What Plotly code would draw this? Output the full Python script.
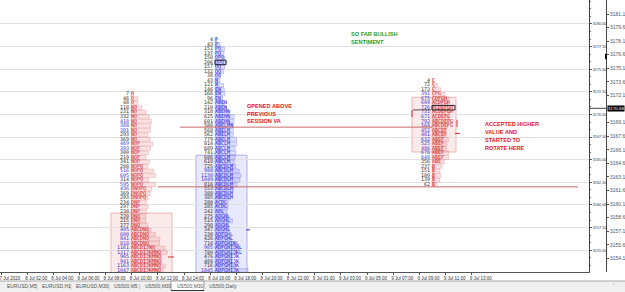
import math
import plotly.graph_objects as go

# ---------------- data ----------------
tick_size = 0.5

# Profile 1 (8 Jul, red)
p1_top = 3172.25
p1_counts = [7, 46, 48, 118, 231, 332, 418, 388, 381, 293,
             369, 469, 383, 300, 219, 341, 288, 516, 605, 314,
             595, 436, 369, 293, 234, 297, 238, 220, 215, 277,
             405, 600, 841, 818, 1161, 1317, 965, 941, 1163, 1047]
p1_letters = ["O", "O", "O", "NO", "NO", "NO", "NO", "NO", "NO", "NO",
              "NO", "NOP", "NOP", "NOP", "NOP", "NOP", "NOPQ", "NOPQ", "NOPQ", "NOPQ",
              "NOPQ", "DNOPQ", "DNOPQ", "DNOPQ", "DNP", "DNP", "DNP", "DNQ", "DNQ", "DNQ",
              "ABCDNQ", "ABCDNQ", "ABCDNQ", "ABCDNQ", "ABCDIJNQ", "ABCDIJKMNQ", "ABCDIJKMNQ",
              "ABCDIJKMNQ", "ABCDIJKMNQ", "ABCDIJKMNQ"]
p1_va = (3159.1, 3152.5)

# Profile 2 (8 Jul later session, blue)
p2_top = 3178.25
p2_counts = [4, 43, 151, 137, 158, 206, 157, 132, 38, 43,
             121, 146, 166, 96, 142, 210, 318, 625, 601, 580,
             568, 562, 779, 814, 689, 741, 686, 618, 725, 988,
             1130, 1049, 816, 553, 388, 385, 280, 285, 242, 275,
             515, 298, 347, 238, 426, 718, 985, 780, 476, 488,
             716, 1845]
p2_letters = ["P", "P", "PQ", "PQ", "OPQ", "OPQ", "OQ", "OQ", "OQ", "N",
              "N", "EN", "EN", "EN", "ABEN", "ABEN", "ABEHN", "ABEHN", "ABEHN", "ABELMN",
              "ABELM", "ABELM", "ABELM", "ABCLM", "ABCLM", "ABCLM", "ABCLM", "ABCLM", "ABCDLM", "ABCDLM",
              "ABCDLM", "ABCDLM", "ABCDLM", "ABCDLM", "ABCDLM", "ABCDLM", "ACDL", "ACDL", "ADL", "ADGHL",
              "ADGHL", "ADGHL", "ADGHL", "ADFGHL", "ADFGHL", "ADFGHIKL", "ADFGHIJKL", "ADFGHIJKL", "ADFGHIJK", "ADFGHIJK",
              "ADFGHIJK", "ADFGHIJK"]
p2_va = (3165.5, 3152.5)
p2_poc_row = 5

# Profile 3 (9 Jul, red)
p3_top = 3173.75
p3_counts = [4, 72, 173, 391, 675, 600, 726, 731, 671, 792,
             568, 452, 481, 632, 525, 486, 676, 648, 356, 237,
             151, 180, 139, 62]
p3_letters = ["C", "C", "C", "CFG", "CDFGH", "ACDFGH", "ACDEFGH", "ACDEFGH", "ACDEFG", "ABCDEFG",
              "ABCDEFG", "ABCEF", "ABCEF", "ABEF", "ABEF", "ABEF", "ABEF", "ABEF", "ABE", "B",
              "B", "B", "B", "B"]
p3_va = (3171.9, 3165.85)
p3_poc_row = 6

# reference levels
level_upper = 3168.6
level_lower = 3162.0
last_price = 3170.68

# axes
x_tick_labels = ["7 Jul 2020", "8 Jul 02:00", "8 Jul 04:00", "8 Jul 06:00", "8 Jul 08:00",
                 "8 Jul 10:00", "8 Jul 12:00", "8 Jul 14:00", "8 Jul 16:00", "8 Jul 18:00",
                 "8 Jul 20:00", "8 Jul 22:00", "9 Jul 01:00", "9 Jul 03:00", "9 Jul 05:00",
                 "9 Jul 07:00", "9 Jul 09:00", "9 Jul 11:00", "9 Jul 13:00"]
price_ticks = [3152.5, 3155.0, 3157.5, 3160.0, 3162.5, 3165.0, 3167.5, 3170.0,
               3172.5, 3175.0, 3177.5, 3180.0]
outer_ticks = [3181.1, 3179.6, 3178.1, 3176.6, 3175.1, 3173.6, 3172.1,
               3169.1, 3167.6, 3166.1, 3164.6, 3163.1, 3161.6, 3160.1,
               3158.6, 3157.1, 3155.6, 3154.1]
tab_labels = ["EURUSD,M5", "EURUSD,H1", "EURUSD,M30", "US500,M5", "US500,M30",
              "US500,M30", "US500,Daily"]
active_tab = 5

# ---------------- layout config ----------------
W, H = 625, 292
PLOT_RIGHT = 589
PLOT_BOTTOM = 272
PX_PER_UNIT = 26.15
Y_TOP, Y_BOT = 3182.65, 3152.59


def ux(px):
    return (px - 1) / PX_PER_UNIT


def py(p):
    return Y_TOP - p / ((PLOT_BOTTOM) / (Y_TOP - Y_BOT))


def paper_y(p):
    return (PLOT_BOTTOM - p) / PLOT_BOTTOM


profiles = [
    dict(top=p1_top, counts=p1_counts, letters=p1_letters, anchor=ux(131), k=1.0,
         letter_color="#d21c1c", bar_fill="rgba(238,165,165,0.32)", bar_line="rgba(215,120,120,0.5)",
         va=p1_va, va_x=(111, 172), va_fill="rgba(242,190,190,0.33)", va_line="#eaa6a6",
         thr=380, poc=None),
    dict(top=p2_top, counts=p2_counts, letters=p2_letters, anchor=ux(215), k=0.77,
         letter_color="#2424d8", bar_fill="rgba(165,165,245,0.35)", bar_line="rgba(110,110,235,0.55)",
         va=p2_va, va_x=(196, 247), va_fill="rgba(192,192,250,0.35)", va_line="#9c9cf2",
         thr=900, poc=p2_poc_row),
    dict(top=p3_top, counts=p3_counts, letters=p3_letters, anchor=ux(432), k=0.65,
         letter_color="#d21c1c", bar_fill="rgba(238,165,165,0.32)", bar_line="rgba(215,120,120,0.5)",
         va=p3_va, va_x=(412, 456), va_fill="rgba(242,190,190,0.33)", va_line="#eaa6a6",
         thr=380, poc=p3_poc_row),
]

fig = go.Figure()
shapes = []
CHAR_W = 3.0  # px per monospace char

for pr in profiles:
    n = len(pr["counts"])
    prices = [pr["top"] - tick_size * i for i in range(n)]
    lengths = [math.sqrt(c) * pr["k"] / PX_PER_UNIT for c in pr["counts"]]
    fig.add_trace(go.Bar(
        y=prices, x=lengths, base=[pr["anchor"]] * n, orientation="h", width=0.42,
        marker=dict(color=pr["bar_fill"], line=dict(color=pr["bar_line"], width=0.6)),
        hoverinfo="skip", showlegend=False))
    fig.add_trace(go.Scatter(
        x=[pr["anchor"]] * n, y=prices, mode="text", text=pr["letters"],
        textposition="middle right", cliponaxis=False,
        textfont=dict(family="DejaVu Sans Mono", size=5, color=pr["letter_color"]),
        hoverinfo="skip", showlegend=False))
    num_colors = ["#3a3ad0" if c >= pr["thr"] else "#333333" for c in pr["counts"]]
    fig.add_trace(go.Scatter(
        x=[pr["anchor"] - 2.0 / PX_PER_UNIT] * n, y=prices, mode="text",
        text=[str(c) for c in pr["counts"]], textposition="middle left", cliponaxis=False,
        textfont=dict(family="DejaVu Sans Mono", size=5, color=num_colors),
        hoverinfo="skip", showlegend=False))
    shapes.append(dict(type="rect", xref="x", yref="y", layer="below",
                       x0=ux(pr["va_x"][0]), x1=ux(pr["va_x"][1]),
                       y0=pr["va"][1], y1=pr["va"][0],
                       fillcolor=pr["va_fill"], line=dict(color=pr["va_line"], width=0.8)))
    if pr["poc"] is not None:
        pp = prices[pr["poc"]]
        shapes.append(dict(type="rect", xref="x", yref="y", layer="above",
                           x0=pr["anchor"], x1=pr["anchor"] + (len(pr["letters"][pr["poc"]]) * CHAR_W + 2) / PX_PER_UNIT,
                           y0=pp - 0.25, y1=pp + 0.25,
                           line=dict(color="#111111", width=0.9)))

# invisible trace to activate the outer price axis
fig.add_trace(go.Scatter(x=[0], y=[3170], yaxis="y2", mode="markers",
                         marker=dict(opacity=0), hoverinfo="skip", showlegend=False))

# reference lines
shapes.append(dict(type="line", xref="x", yref="y", x0=ux(180), x1=ux(432),
                   y0=level_upper, y1=level_upper, line=dict(color="#c86a6a", width=1)))
shapes.append(dict(type="line", xref="x", yref="y", x0=ux(158), x1=ux(578),
                   y0=level_lower, y1=level_lower, line=dict(color="#c86a6a", width=1)))
small = [
    (168, 174, 3154.25, 3154.25, "#d03030"),
    (246, 250, 3157.25, 3157.25, "#3535d8"),
    (455, 460, 3167.9, 3167.9, "#d03030"),
    (413, 431, 3170.5, 3170.5, "#555555"),
]
for x0, x1, y0, y1, c in small:
    shapes.append(dict(type="line", xref="x", yref="y", x0=ux(x0), x1=ux(x1), y0=y0, y1=y1,
                       line=dict(color=c, width=1)))
shapes.append(dict(type="line", xref="x", yref="y", x0=ux(412), x1=ux(412), y0=3169.7, y1=3170.5,
                   line=dict(color="#d03030", width=1)))
shapes.append(dict(type="line", xref="x", yref="y", x0=ux(457), x1=ux(457), y0=3168.6, y1=3169.4,
                   line=dict(color="#d03030", width=1)))

shapes.append(dict(type="line", xref="paper", yref="y", x0=PLOT_RIGHT / W, x1=606 / W,
                   y0=last_price, y1=last_price, line=dict(color="#444444", width=1)))
shapes.append(dict(type="line", xref="paper", yref="y", x0=606 / W, x1=606 / W,
                   y0=3176.1, y1=3176.7, line=dict(color="#111111", width=2)))

# tab bar
shapes.append(dict(type="rect", xref="paper", yref="paper", x0=0, x1=1,
                   y0=paper_y(292), y1=paper_y(281), fillcolor="#f0f0f0",
                   line=dict(width=0), layer="below"))
shapes.append(dict(type="line", xref="paper", yref="paper", x0=0, x1=1,
                   y0=paper_y(281), y1=paper_y(281), line=dict(color="#a8a8a8", width=1)))

tab_x = [5, 40, 74, 112, 143, 175, 207]
annotations = []
for i, (lab, tx) in enumerate(zip(tab_labels, tab_x)):
    if i == active_tab:
        shapes.append(dict(type="rect", xref="paper", yref="paper", x0=171 / W, x1=204 / W,
                           y0=paper_y(290.5), y1=paper_y(281), fillcolor="#ffffff",
                           line=dict(color="#8a8a8a", width=0.8)))
        shapes.append(dict(type="line", xref="paper", yref="paper", x0=171 / W, x1=204 / W,
                           y0=paper_y(290.5), y1=paper_y(290.5), line=dict(color="#333333", width=1)))
    annotations.append(dict(xref="paper", yref="paper", x=tx / W, y=paper_y(286), text=lab,
                            showarrow=False, xanchor="left", yanchor="middle",
                            font=dict(family="Liberation Sans", size=5, color="#555555")))
    if i < len(tab_labels) - 1 and i != active_tab - 1 and i != active_tab:
        annotations.append(dict(xref="paper", yref="paper", x=(tab_x[i + 1] - 4) / W, y=paper_y(286),
                                text="|", showarrow=False, xanchor="center", yanchor="middle",
                                font=dict(family="Liberation Sans", size=5, color="#888888")))
annotations.append(dict(xref="paper", yref="paper", x=613 / W, y=paper_y(285), text="'",
                        showarrow=False, xanchor="center", yanchor="middle",
                        font=dict(family="Liberation Sans", size=5, color="#777777")))

annotations.append(dict(xref="paper", yref="y", x=606.5 / W, y=last_price, text="%.2f" % last_price,
                        showarrow=False, xanchor="left", yanchor="middle", bgcolor="#000000",
                        borderpad=0, font=dict(family="Liberation Sans", size=4.4, color="#ffffff")))

notes = [
    (["SO FAR BULLISH", "SENTIMENT"], 349, 34, 7.7, "#1f9e28"),
    (["OPENED ABOVE", "PREVIOUS", "SESSION VA"], 245, 106, 7.7, "#ea1420"),
    (["ACCEPTED HIGHER", "VALUE AND", "STARTED TO", "ROTATE HERE"], 483, 124, 7.9, "#ea1420"),
]
for lines, x0, y0, dy, col in notes:
    for j, t in enumerate(lines):
        annotations.append(dict(xref="x", yref="y", x=ux(x0), y=py(y0 + j * dy), text="<b>%s</b>" % t,
                                showarrow=False, xanchor="left", yanchor="middle",
                                font=dict(family="Liberation Sans", size=5.6, color=col)))

fig.update_layout(
    width=W, height=H, margin=dict(l=0, r=0, t=0, b=H - PLOT_BOTTOM),
    paper_bgcolor="#ffffff", plot_bgcolor="#ffffff",
    barmode="overlay", showlegend=False,
    shapes=shapes, annotations=annotations,
    xaxis=dict(domain=[0, PLOT_RIGHT / W], range=[ux(0), ux(PLOT_RIGHT)],
               tickvals=list(range(len(x_tick_labels))), ticktext=x_tick_labels,
               showgrid=False, zeroline=False, showline=True, linecolor="#555555", linewidth=1,
               ticks="outside", ticklen=2, tickcolor="#555555", ticklabelshift=9,
               ticklabelstandoff=0, ticklabeloverflow="allow",
               tickfont=dict(family="Liberation Sans", size=4.5, color="#333333"), fixedrange=True),
    yaxis=dict(range=[Y_BOT, Y_TOP], side="right", anchor="x",
               tickvals=price_ticks, ticktext=["%.2f" % v for v in price_ticks],
               showgrid=True, gridcolor="#e2e2e2", gridwidth=1, zeroline=False,
               showline=True, linecolor="#444444", linewidth=1,
               ticks="outside", ticklen=2, tickcolor="#555555",
               minor=dict(ticks="outside", ticklen=1.2, tickcolor="#777777", dtick=2.5 / 3, tick0=3152.5),
               tickfont=dict(family="Liberation Sans", size=3.8, color="#333333"), fixedrange=True),
    yaxis2=dict(range=[Y_BOT, Y_TOP], overlaying="y", side="right", anchor="free",
                position=606 / W, tickvals=outer_ticks, ticktext=["%.1f" % v for v in outer_ticks],
                showgrid=False, zeroline=False, showline=True, linecolor="#444444", linewidth=1,
                ticks="outside", ticklen=2, tickcolor="#555555",
                tickfont=dict(family="Liberation Sans", size=5, color="#555555"), fixedrange=True),
)

fig.write_html("out.html")
